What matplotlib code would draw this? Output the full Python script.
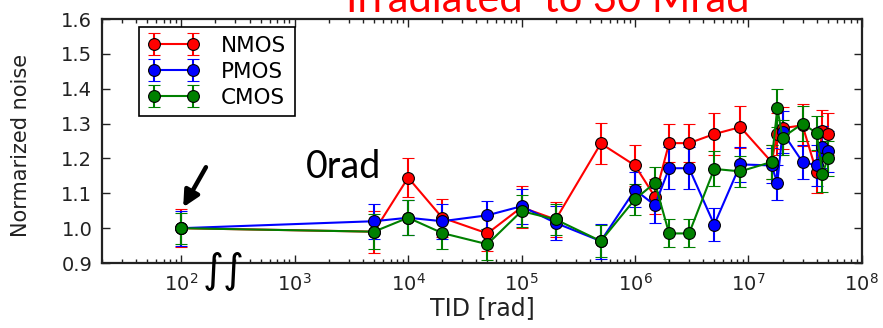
import matplotlib
matplotlib.use("Agg")
import matplotlib.pyplot as plt
from matplotlib.ticker import (FixedLocator, LogFormatterMathtext, NullFormatter,
                               MultipleLocator, FormatStrFormatter)

# Total ionising dose steps [rad]
tid = [1e2, 5e3, 1e4, 2e4, 5e4, 1e5, 2e5, 5e5, 1e6, 1.5e6, 2e6, 3e6,
       5e6, 8.5e6, 1.6e7, 1.8e7, 2e7, 3e7, 4e7, 4.5e7, 5e7]

# Normalised noise per transistor type
nmos = [1.00, 0.99, 1.145, 1.03, 0.985, 1.06, 1.025, 1.243, 1.18, 1.09, 1.244, 1.244,
        1.27, 1.29, 1.19, 1.27, 1.287, 1.295, 1.16, 1.28, 1.27]
pmos = [1.00, 1.02, 1.03, 1.02, 1.037, 1.063, 1.015, 0.963, 1.11, 1.066, 1.172, 1.172,
        1.01, 1.183, 1.18, 1.13, 1.275, 1.19, 1.18, 1.232, 1.22]
cmos = [1.00, 0.99, 1.03, 0.986, 0.954, 1.049, 1.025, 0.963, 1.083, 1.13, 0.985, 0.985,
        1.17, 1.163, 1.19, 1.344, 1.26, 1.30, 1.273, 1.155, 1.20]

# Error bars
nmos_err = [0.055, 0.06, 0.055, 0.055, 0.05, 0.06, 0.05, 0.06, 0.06, 0.05, 0.055, 0.055,
            0.06, 0.06, 0.05, 0.06, 0.06, 0.06, 0.06, 0.06, 0.06]
pmos_err = [0.05, 0.05, 0.05, 0.05, 0.04, 0.05, 0.05, 0.05, 0.05, 0.05, 0.06, 0.06,
            0.047, 0.05, 0.05, 0.05, 0.06, 0.05, 0.06, 0.06, 0.06]
cmos_err = [0.045, 0.05, 0.05, 0.045, 0.045, 0.045, 0.045, 0.045, 0.045, 0.045, 0.04, 0.04,
            0.05, 0.045, 0.05, 0.055, 0.05, 0.05, 0.05, 0.05, 0.05]

# Axis ticks
x_major = [1e2, 1e3, 1e4, 1e5, 1e6, 1e7, 1e8]
x_minor = [m * 10 ** e for e in range(1, 8) for m in range(2, 10) if m * 10 ** e >= 20]

series = [("NMOS", nmos, nmos_err, "#ff0000"),
          ("PMOS", pmos, pmos_err, "#0000ff"),
          ("CMOS", cmos, cmos_err, "#008000")]

INK = "#222222"

fig = plt.figure(figsize=(8.83, 3.28), dpi=100)
ax = fig.add_axes([0.1155, 0.198, 0.8605, 0.744])

for label, vals, errs, col in series:
    ax.errorbar(tid, vals, yerr=errs, color=col, marker="o", markersize=8.5,
                markeredgecolor="black", markeredgewidth=0.8, linewidth=1.5,
                elinewidth=1.5, capsize=4, capthick=1.5, label=label)

ax.set_xscale("log")
ax.set_xlim(20, 1e8)
ax.set_ylim(0.9, 1.6)
ax.yaxis.set_major_locator(MultipleLocator(0.1))
ax.yaxis.set_major_formatter(FormatStrFormatter("%.1f"))
ax.xaxis.set_major_locator(FixedLocator(x_major))
ax.xaxis.set_major_formatter(LogFormatterMathtext())
ax.xaxis.set_minor_locator(FixedLocator(x_minor))
ax.xaxis.set_minor_formatter(NullFormatter())

ax.tick_params(which="both", direction="in", top=True, right=True, colors=INK,
               labelcolor=INK)
ax.tick_params(which="major", length=6, width=1, labelsize=14, pad=7)
ax.tick_params(which="minor", length=3, width=1)
for sp in ax.spines.values():
    sp.set_linewidth(1.6)
    sp.set_color(INK)

ax.set_xlabel("TID [rad]", fontsize=17, color=INK, labelpad=1)
ax.set_ylabel("Normarized noise", fontsize=15, color=INK, family="DejaVu Sans")
ax.yaxis.set_label_coords(-0.094, 0.48)

leg = ax.legend(loc="upper left", bbox_to_anchor=(0.0487, 0.967), borderaxespad=0,
                numpoints=2, fancybox=False, framealpha=1, edgecolor="black",
                fontsize=15.5, handlelength=2.4, handletextpad=1.0,
                borderpad=0.4, labelspacing=0.28)
leg.get_frame().set_linewidth(1.2)

# Label for the unirradiated reference point
ax.text(1.25e3, 1.175, "0rad", fontsize=27, family="Lato", color="black",
        ha="left", va="center")
ax.annotate("", xy=(104, 1.06), xytext=(165, 1.175),
            arrowprops=dict(arrowstyle="-|>", color="black", lw=3.2,
                            mutation_scale=24, shrinkA=0, shrinkB=0))

# Axis break marks
fig.text(224 / 883, 1 - 270 / 328, "\u222b\u222b", fontsize=29, color="black",
         ha="center", va="center", family="DejaVu Sans")

# Title, partially clipped at the top edge
fig.text(548 / 883, 1 - 12 / 328, "Irradiated  to 30 Mrad", fontsize=30,
         color="#ff0000", ha="center", va="baseline", family="Lato")

fig.savefig("out.png", dpi=100)
